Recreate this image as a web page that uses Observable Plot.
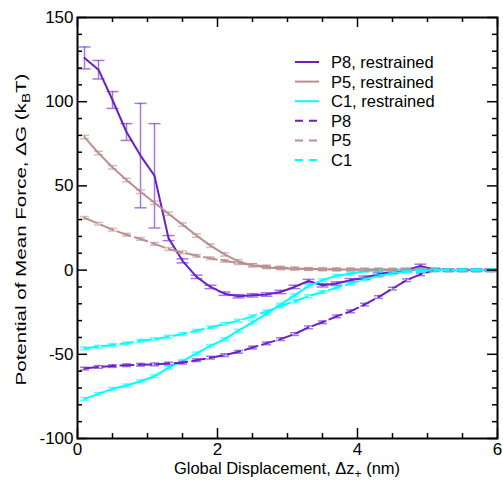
<!DOCTYPE html>
<html><head><meta charset="utf-8">
<script src="https://cdn.jsdelivr.net/npm/d3@7"></script>
<script src="https://cdn.jsdelivr.net/npm/@observablehq/plot@0.6"></script>
<style>
body{margin:0;background:#fff}
#wrap{position:relative;width:503px;height:482px;font-family:"Liberation Sans",Arial,sans-serif}
#legend{position:absolute;left:0;top:0}
</style>
</head><body><div id="wrap"></div>
<script>
// sample positions (nm)
const xs = [0.1,0.3,0.5,0.7,0.9,1.1,1.3,1.5,1.7,1.9,2.1,2.3,2.5,2.7,2.9,3.1,3.3,3.5,3.7,3.9,4.1,4.3,4.5,4.7,4.9,5.1,5.3,5.5,5.7,5.9];

const p8r    = [126,119,101,82,68,56,19,5.5,-4,-10,-14,-15.5,-15,-14.5,-13,-10,-6.5,-9,-8,-6,-4.5,-2.5,-1,0,2.5,0.3,0,0,0,0];
const p8rErr = [6.5,5.5,5,5,31,31,1.5,1.2,1,1,1,1,1,1,1,1,1,1,1,1,1,1,1,1,1,0.8,0.8,0.8,0.8,0.8];

const p5r    = [79,69.5,61,53.5,46.5,40,33.5,27,20.5,14.5,9.3,5.2,2.8,1.6,1,0.8,0.6,0.5,0.4,0.4,0.3,0.3,0.3,0.2,0.2,0.2,0.1,0.1,0.1,0.1];
const p5rErr = [1,1,1,1,1,1,1,1,1,1,1,1,1,0.8,0.8,0.8,0.8,0.8,0.8,0.8,0.8,0.8,0.8,0.8,0.8,0.8,0.8,0.8,0.8,0.8];

const c1r    = [-76.5,-73.5,-70.5,-68.5,-66,-63,-58,-54,-49.5,-45,-41,-36,-31,-26,-20.5,-15,-9.5,-6,-3.3,-2.2,-0.5,-0.3,-0.2,0,0,0,0,0,0,0];
const c1rErr = [0.8,0.8,0.8,0.8,0.8,0.8,0.8,0.8,0.8,0.8,0.8,0.8,0.8,0.8,0.8,0.8,0.8,0.8,0.8,0.8,0.8,0.8,0.8,0.8,0.8,0.8,0.8,0.8,0.8,0.8];

const p8     = [-58.5,-57.5,-57,-56.5,-56.2,-56,-55.5,-55,-53.5,-52,-50.5,-48.5,-46,-43.5,-41,-38,-34,-31,-27.5,-24.5,-20.5,-16,-11,-6,-2.5,0,0,0,0,0];
const p8Err  = [0.8,0.8,0.8,0.8,0.8,0.8,0.8,0.8,0.8,0.8,0.8,0.8,0.8,0.8,0.8,0.8,0.8,0.8,0.8,0.8,0.8,0.8,0.8,0.8,0.8,0.8,0.8,0.8,0.8,0.8];

const p5     = [31,27.5,24,21,18.5,15.6,12.5,10.5,8.5,7,5.5,4.1,3,2.2,1.5,1,0.7,0.5,0.4,0.3,0.2,0.2,0.1,0.1,0.1,0,0,0,0,0];
const p5Err  = [0.8,0.8,0.8,0.8,0.8,0.8,0.8,0.8,0.8,0.8,0.8,0.8,0.8,0.8,0.8,0.8,0.8,0.8,0.8,0.8,0.8,0.8,0.8,0.8,0.8,0.8,0.8,0.8,0.8,0.8];

const c1     = [-46.5,-45.5,-44.5,-43.5,-42,-41,-39.5,-38,-36,-34,-32,-30,-27.5,-24.5,-21.5,-18.5,-15.5,-13,-10.5,-8,-5.5,-3.5,-2,-1,-0.5,0,0,0,0,0];
const c1Err  = [0.8,0.8,0.8,0.8,0.8,0.8,0.8,0.8,0.8,0.8,0.8,0.8,0.8,0.8,0.8,0.8,0.8,0.8,0.8,0.8,0.8,0.8,0.8,0.8,0.8,0.8,0.8,0.8,0.8,0.8];

const seriesNames = ["P8, restrained","P5, restrained","C1, restrained","P8","P5","C1"];
const seriesColors = ["#6a1fc8","#bc8f8f","#00ffff","#6a1fc8","#bc8f8f","#00ffff"];
const seriesValues = [p8r,p5r,c1r,p8,p5,c1];
const seriesErrors = [p8rErr,p5rErr,c1rErr,p8Err,p5Err,c1Err];
const seriesDashed = [false,false,false,true,true,true];

const yMajor = [-100,-50,0,50,100,150];
const yMinor = [-90,-80,-70,-60,-40,-30,-20,-10,10,20,30,40,60,70,80,90,110,120,130,140];
const xMajor = [0,2,4,6];
const xMinor = [0.5,1,1.5,2.5,3,3.5,4.5,5,5.5];

const W = 503, H = 482, mL = 77, mR = 6, mT = 17, mB = 44;
const plotW = W - mL - mR, plotH = H - mT - mB;
const FONT = '"Liberation Sans", Arial, sans-serif';

const hbar = {draw(ctx, size){ const r = Math.sqrt(size/Math.PI); ctx.moveTo(-r,0); ctx.lineTo(r,0); }};

const marks = [];
seriesNames.forEach((name, k) => {
  const rows = xs.map((x,i) => ({x, y: seriesValues[k][i], e: seriesErrors[k][i]}));
  const color = seriesColors[k];
  const cap = k === 0 ? 6 : 4.5;
  marks.push(Plot.ruleX(rows, {x:"x", y1: d => d.y - d.e, y2: d => d.y + d.e, stroke: color, strokeOpacity: 0.6, strokeWidth: 1.5}));
  marks.push(Plot.dot(rows, {x:"x", y: d => d.y + d.e, symbol: hbar, r: cap, stroke: color, strokeOpacity: 0.6, strokeWidth: 1.5, fill: "none"}));
  marks.push(Plot.dot(rows, {x:"x", y: d => d.y - d.e, symbol: hbar, r: cap, stroke: color, strokeOpacity: 0.6, strokeWidth: 1.5, fill: "none"}));
  marks.push(Plot.line(rows, {x:"x", y:"y", stroke: color, strokeWidth: 2, strokeDasharray: seriesDashed[k] ? "13,5" : null}));
});

// inward ticks on all four sides
[[yMajor,10],[yMinor,5]].forEach(([t,len]) => {
  marks.push(Plot.ruleY(t, {y: d => d, insetRight: plotW - len, stroke: "black", strokeWidth: 1.5}));
  marks.push(Plot.ruleY(t, {y: d => d, insetLeft: plotW - len, stroke: "black", strokeWidth: 1.5}));
});
[[xMajor,10],[xMinor,5]].forEach(([t,len]) => {
  marks.push(Plot.ruleX(t, {x: d => d, insetTop: plotH - len, stroke: "black", strokeWidth: 1.5}));
  marks.push(Plot.ruleX(t, {x: d => d, insetBottom: plotH - len, stroke: "black", strokeWidth: 1.5}));
});
marks.push(Plot.frame({stroke: "black", strokeWidth: 2}));
marks.push(Plot.axisX(xMajor, {tickSize: 0, tickPadding: 4, label: null, fontSize: 17, tickFormat: d => String(d)}));
marks.push(Plot.axisY(yMajor, {tickSize: 0, tickPadding: 4, label: null, fontSize: 17, tickFormat: d => String(d)}));

const chart = Plot.plot({
  width: W, height: H,
  marginLeft: mL, marginRight: mR, marginTop: mT, marginBottom: mB,
  style: {fontFamily: FONT, fontSize: "17px", color: "black", background: "white"},
  x: {domain: [0, 6]},
  y: {domain: [-100, 150]},
  marks
});
document.getElementById("wrap").appendChild(chart);

// axis titles with sub-scripts
const svg = d3.select(chart);
const yt = svg.append("text")
  .attr("transform", `translate(26,${mT + plotH/2 + 2}) rotate(-90)`)
  .attr("text-anchor", "middle").attr("font-size", 15.5).attr("fill", "black").attr("font-family", FONT)
  .attr("textLength", 312).attr("lengthAdjust", "spacingAndGlyphs");
yt.append("tspan").text("Potential of Mean Force, ΔG (k");
yt.append("tspan").attr("dy", 4).attr("font-size", 11.5).text("B");
yt.append("tspan").attr("dy", -4).text("T)");

const xt = svg.append("text")
  .attr("x", mL + plotW/2).attr("y", 474)
  .attr("text-anchor", "middle").attr("font-size", 16.5).attr("fill", "black").attr("font-family", FONT);
xt.append("tspan").text("Global Displacement, Δz");
xt.append("tspan").attr("dy", 4).attr("font-size", 12).text("+");
xt.append("tspan").attr("dy", -4).text(" (nm)");

// legend overlay
const leg = d3.select("#wrap").append("svg").attr("id","legend").attr("width", W).attr("height", H);
seriesNames.forEach((name, k) => {
  const y = 62 + k * 19.6;
  leg.append("line").attr("x1", 295).attr("x2", 319).attr("y1", y).attr("y2", y)
    .attr("stroke", seriesColors[k]).attr("stroke-width", 2)
    .attr("stroke-dasharray", seriesDashed[k] ? "8,6" : null);
  leg.append("text").attr("x", 331).attr("y", y + 6).attr("font-size", 16.5)
    .attr("font-family", FONT).attr("fill", "black").text(name);
});
</script>
</body></html>
